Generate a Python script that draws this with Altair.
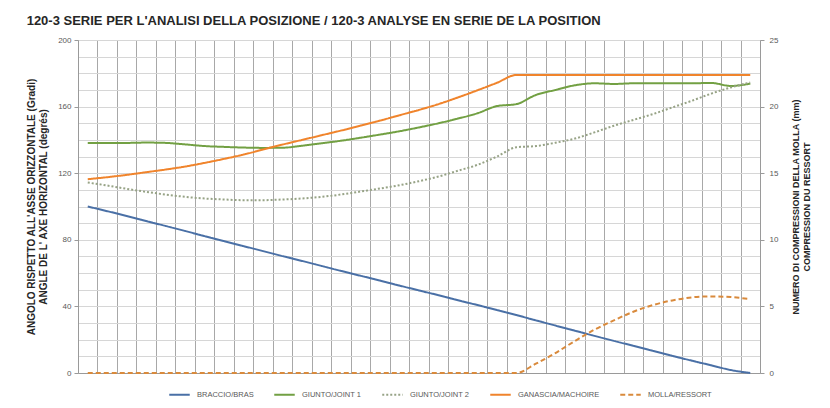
import altair as alt
import pandas as pd

series_names = ["BRACCIO/BRAS", "GIUNTO/JOINT 1", "GIUNTO/JOINT 2", "GANASCIA/MACHOIRE", "MOLLA/RESSORT"]

bras = [100, 97.2, 94.3, 91.3, 88.3, 85.3, 82.2, 79.2, 76.2, 73.2, 70.2, 67.3, 64.3, 61.3,
        58.4, 55.5, 52.5, 49.6, 46.7, 43.7, 40.8, 37.8, 34.8, 31.6, 28.5, 25.4, 22.3, 19.3,
        16.3, 13.3, 10.3, 7.4, 4.6, 1.8, 0]
joint1 = [138.2, 138.2, 138.2, 138.4, 138.2, 137.3, 136.3, 135.8, 135.4, 135.2, 135.3, 136.5,
          138.0, 139.5, 141.3, 143.2, 145.2, 147.5, 150.0, 152.8, 156.0, 160.3, 161.5, 167.0,
          170.0, 172.8, 174.0, 173.6, 174.0, 174.0, 174.0, 174.0, 174.2, 172.4, 173.8]
joint2 = [114.4, 112.6, 110.6, 108.8, 107.2, 105.8, 104.8, 104.2, 103.8, 103.8, 104.2, 104.8,
          105.8, 107.2, 109.0, 110.8, 112.8, 115.2, 118.0, 121.5, 125.0, 130.0, 135.6, 136.3,
          138.3, 140.8, 144.5, 148.5, 152.0, 155.5, 159.5, 163.5, 167.8, 171.5, 174.5]
machoire = [116.4, 117.6, 119.0, 120.6, 122.2, 124.0, 126.2, 128.6, 131.2, 134.2, 137.2, 140.0,
            142.8, 145.6, 148.6, 151.6, 154.8, 158.0, 161.5, 165.5, 169.8, 174.3, 179, 179,
            179, 179, 179, 179, 179, 179, 179, 179, 179, 179, 179]
molla = [0] * 23 + [0.7, 1.5, 2.4, 3.25, 3.95, 4.6, 5.1, 5.45, 5.68, 5.75, 5.7, 5.55]

left_ticks = list(range(0, 201, 10))
right_ticks = [0, 5, 10, 15, 20, 25]

colors = ["#4a70a6", "#72a043", "#97a386", "#f0842c", "#d98a3c"]
dashes = [[1, 0], [1, 0], [2, 2], [1, 0], [5, 3]]
widths = [2, 2, 2, 2.6, 2]

n = len(bras)
rows = []
for name, vals in zip(series_names[:4], [bras, joint1, joint2, machoire]):
    for i, v in enumerate(vals):
        rows.append({"pos": i + 0.5, "value": v, "series": name})
left_df = pd.DataFrame(rows)
right_df = pd.DataFrame({"pos": [i + 0.5 for i in range(n)], "value": molla,
                         "series": [series_names[4]] * n})

FONT = "Liberation Sans"

legend = alt.Legend(title=None, orient="none", legendX=90, legendY=343, direction="horizontal",
                    symbolType="stroke", symbolSize=420, symbolStrokeWidth=2, padding=0,
                    labelFontSize=7.5, labelColor="#595959", labelFont=FONT,
                    columnPadding=16, labelOffset=6)
color = alt.Color("series:N", scale=alt.Scale(domain=series_names, range=colors), legend=legend)
dash = alt.StrokeDash("series:N", scale=alt.Scale(domain=series_names, range=dashes), legend=legend)
width = alt.StrokeWidth("series:N", scale=alt.Scale(domain=series_names, range=widths), legend=None)

x = alt.X("pos:Q", scale=alt.Scale(domain=[0, n], nice=False),
          axis=alt.Axis(values=list(range(n + 1)), labels=False, ticks=False, grid=True,
                        gridColor="#a8a8a8", gridWidth=1, domainColor="#9a9a9a", title=None))

left = alt.Chart(left_df).mark_line(interpolate="monotone").encode(
    x=x,
    y=alt.Y("value:Q", scale=alt.Scale(domain=[0, 200], nice=False),
            axis=alt.Axis(values=left_ticks, orient="left",
                          labelExpr="datum.value % 40 == 0 ? datum.label : ''",
                          tickOpacity={"condition": {"test": "datum.value % 40 == 0", "value": 1}, "value": 0},
                          grid=True, gridColor="#d6d6d6", domainColor="#9a9a9a", tickColor="#9a9a9a",
                          tickSize=4, labelPadding=3, labelFontSize=8, labelColor="#595959", labelFont=FONT,
                          title=["ANGOLO RISPETTO ALL'ASSE ORIZZONTALE (Gradi)",
                                 "ANGLE DE L' AXE HORIZONTAL (degrés)"],
                          titleFontSize=10, titleFont=FONT, titleFontWeight="bold", titleColor="#262626",
                          titlePadding=9, titleLineHeight=12)),
    color=color, strokeDash=dash, strokeWidth=width,
)

right = alt.Chart(right_df).mark_line(interpolate="monotone").encode(
    x=x,
    y=alt.Y("value:Q", scale=alt.Scale(domain=[0, 25], nice=False),
            axis=alt.Axis(values=right_ticks, orient="right", grid=False,
                          domainColor="#9a9a9a", tickColor="#9a9a9a", tickSize=4, labelPadding=5,
                          labelFontSize=8, labelColor="#595959", labelFont=FONT,
                          title=["NUMERO DI COMPRESSIONI DELLA MOLLA (mm)", "COMPRESSION DU RESSORT"],
                          titleAngle=270, titleFontSize=9, titleFont=FONT, titleFontWeight="bold",
                          titleColor="#262626", titlePadding=12, titleLineHeight=11)),
    color=color, strokeDash=dash, strokeWidth=width,
)

chart = alt.layer(left, right).resolve_scale(y="independent").properties(
    width=682, height=333,
    padding={"left": 70, "top": 32, "right": 62, "bottom": 27},
    autosize=alt.AutoSizeParams(type="none"),
    title=alt.TitleParams(
        text="120-3 SERIE PER L'ANALISI DELLA POSIZIONE / 120-3 ANALYSE EN SERIE DE LA POSITION",
        anchor="start", fontSize=13, fontWeight="bold", font=FONT, color="#262626", offset=8),
).configure_view(stroke=None).configure(background="white")

chart.save("out.html", embed_options={"renderer": "svg", "actions": False})
